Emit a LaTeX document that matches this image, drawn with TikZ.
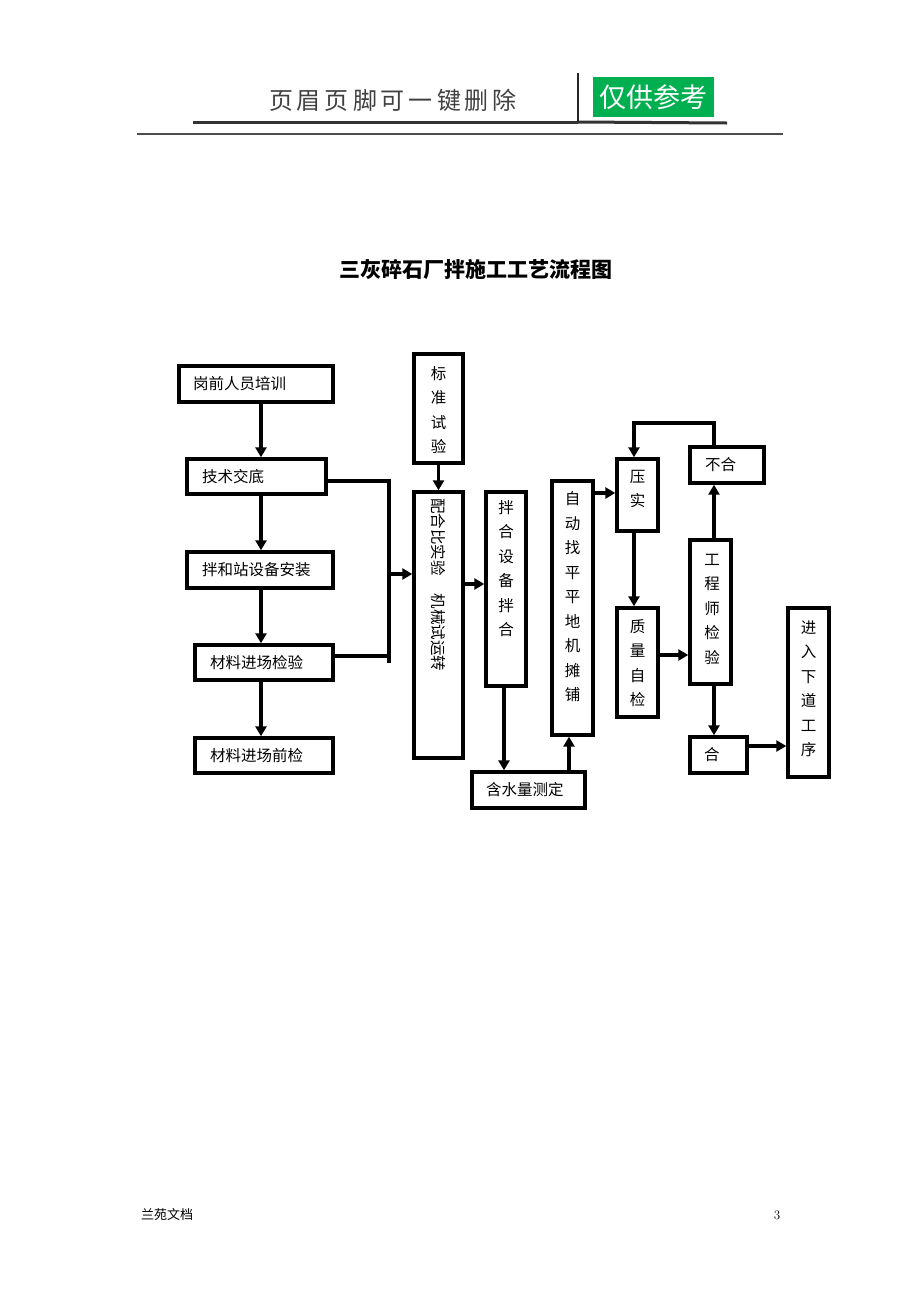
\documentclass[tikz,border=0pt]{standalone}
\usepackage{fontspec}
\newfontfamily\cjk{Noto Sans CJK SC}
\usetikzlibrary{arrows.meta}
\begin{document}
\begin{tikzpicture}[x=1pt,y=-1pt,
  bx/.style={draw=black,line width=3.4pt,rectangle,inner sep=0pt},
  ht/.style={font=\cjk\fontsize{15.5}{18}\selectfont,anchor=west,inner sep=0pt},
  vt/.style={font=\cjk\fontsize{15.5}{24.5}\selectfont,align=center,inner sep=0pt},
  arr/.style={line width=3.4pt,-{Triangle[length=10pt,width=11pt]}},
  ln/.style={line width=3.4pt}]
\useasboundingbox (0,0) rectangle (920,1302);
% header
\node[font=\cjk\fontsize{24}{26}\selectfont,text=black!75,inner sep=0pt] (hd) at (393,100) {页\,眉\,页\,脚\,可\,一\,键\,删\,除};
\coordinate (hl1) at (193,122);
\coordinate (hl2) at (578,122);
\coordinate (hl3) at (727,123);
\coordinate (hv) at (578,73);
\draw[line width=3pt,black!80] (hl1) -- (hl2);
\draw[line width=3pt,black!80] (hl2) -- (hl3);
\draw[line width=2.2pt,black!85] (hv) -- (hl2);
\node[fill={rgb,255:red,0;green,176;blue,80},minimum width=121,minimum height=40,inner sep=0pt,text=white,font=\cjk\fontsize{27}{29}\selectfont] (ck) at (653.5,97) {仅供参考};
\coordinate (tl1) at (137,134);
\coordinate (tl2) at (783,134);
\draw[line width=1.2pt,black!70] (tl1) -- (tl2);
% title
\node[font=\cjk\bfseries\fontsize{21}{24}\selectfont,inner sep=0pt] (title) at (476,270) {三灰碎石厂拌施工工艺流程图};
% left column
\node[bx,minimum width=154,minimum height=36] (a1) at (256,384) {};
\node[ht] (a1t) at (193,384) {岗前人员培训};
\node[bx,minimum width=139,minimum height=35] (a2) at (256.5,476.5) {};
\node[ht] (a2t) at (202,476.5) {技术交底};
\node[bx,minimum width=146,minimum height=36] (a3) at (260,570) {};
\node[ht] (a3t) at (202,570) {拌和站设备安装};
\node[bx,minimum width=138,minimum height=35] (a4) at (264,662.5) {};
\node[ht] (a4t) at (210,662.5) {材料进场检验};
\node[bx,minimum width=138,minimum height=35] (a5) at (264,755.5) {};
\node[ht] (a5t) at (210,755.5) {材料进场前检};
\draw[arr] (a1.south -| 261,0) -- (a2.north -| 261,0);
\draw[arr] (a2.south -| 261,0) -- (a3.north -| 261,0);
\draw[arr] (a3.south -| 261,0) -- (a4.north -| 261,0);
\draw[arr] (a4.south -| 261,0) -- (a5.north -| 261,0);
% collector
\coordinate (c1) at (389,481);
\coordinate (c2) at (389,656);
\coordinate (c3) at (389,663);
\coordinate (c4) at (389,574);
\draw[ln] (a2.east |- c1) -- (c1) -- (c3);
\draw[ln] (a4.east |- c2) -- (c2);
% middle
\node[bx,minimum width=49,minimum height=109] (b1) at (438.5,408.5) {};
\node[vt] (b1t) at (438.5,410) {标\\准\\试\\验};
\node[bx,minimum width=49,minimum height=266] (b2) at (438.5,625) {};
\node[font=\cjk\fontsize{15.5}{18}\selectfont,rotate=-90,anchor=west,inner sep=0pt] (b2t) at (438.5,498) {配合比实验\hspace{18pt}机械试运转};
\draw[arr] (c4) -- (b2.west |- c4);
\draw[arr] (b1.south) -- (b2.north);
\node[bx,minimum width=40,minimum height=194] (b3) at (506,589) {};
\node[vt,anchor=north] (b3t) at (506,500) {拌\\合\\设\\备\\拌\\合};
\draw[arr] (b2.east |- 0,584) -- (b3.west |- 0,584);
\node[bx,minimum width=113,minimum height=36] (b4) at (528.5,790) {};
\node[ht] (b4t) at (486,790) {含水量测定};
\draw[arr] (b3.south -| 504,0) -- (b4.north -| 504,0);
\node[bx,minimum width=41,minimum height=254] (b5) at (572.5,608) {};
\node[vt] (b5t) at (572.5,597) {自\\动\\找\\平\\平\\地\\机\\摊\\铺};
\draw[arr] (b4.north -| 569,0) -- (b5.south -| 569,0);
% right part
\node[bx,minimum width=41,minimum height=72] (d1) at (637.5,495) {};
\node[vt] (d1t) at (637.5,489) {压\\实};
\draw[arr] (b5.east |- 0,493) -- (d1.west |- 0,493);
\node[bx,minimum width=41,minimum height=109] (d2) at (637.5,662.5) {};
\node[vt] (d2t) at (637.5,663) {质\\量\\自\\检};
\draw[arr] (d1.south -| 634,0) -- (d2.north -| 634,0);
\node[bx,minimum width=41,minimum height=144] (d3) at (710.5,612) {};
\node[vt] (d3t) at (712,609) {工\\程\\师\\检\\验};
\draw[arr] (d2.east |- 0,655) -- (d3.west |- 0,655);
\node[bx,minimum width=74,minimum height=36] (d4) at (727,465) {};
\node[ht] (d4t) at (705,465) {不合};
\draw[arr] (d3.north -| 714,0) -- (d4.south -| 714,0);
\coordinate (e1) at (714,423);
\coordinate (e2) at (634,423);
\draw[arr] (d4.north -| 714,0) -- (e1) -- (e2) -- (d1.north -| 634,0);
\node[bx,minimum width=57,minimum height=36] (d5) at (718.5,755) {};
\node[ht] (d5t) at (704,755) {合};
\draw[arr] (d3.south -| 714,0) -- (d5.north -| 714,0);
\node[bx,minimum width=41,minimum height=169] (d6) at (808.5,692.5) {};
\node[vt] (d6t) at (808.5,689) {进\\入\\下\\道\\工\\序};
\draw[arr] (d5.east |- 0,746) -- (d6.west |- 0,746);
% footer
\node[font=\cjk\fontsize{13}{15}\selectfont,inner sep=0pt] (f1) at (167,1215) {兰苑文档};
\node[font=\fontsize{13}{15}\selectfont,inner sep=0pt] (f2) at (777,1215) {3};
\end{tikzpicture}
\end{document}
